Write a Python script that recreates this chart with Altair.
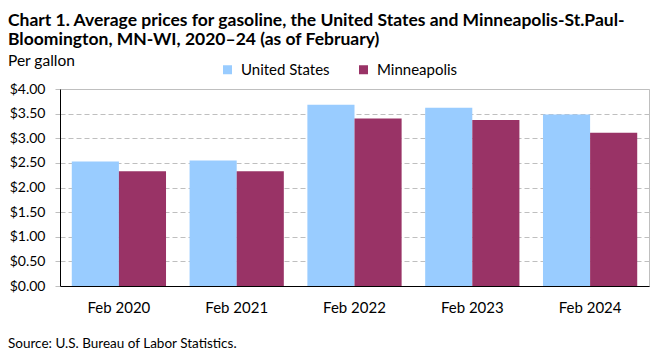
import altair as alt
import pandas as pd

years = ["Feb 2020", "Feb 2021", "Feb 2022", "Feb 2023", "Feb 2024"]
us_prices = [2.53, 2.55, 3.68, 3.62, 3.48]
mn_prices = [2.33, 2.33, 3.40, 3.37, 3.11]
series = ["United States", "Minneapolis"]
colors = ["#99CCFF", "#993366"]
y_ticks = [0, 0.5, 1.0, 1.5, 2.0, 2.5, 3.0, 3.5, 4.0]
title_lines = [
    "Chart 1. Average prices for gasoline, the United States and Minneapolis-St.Paul-",
    "Bloomington, MN-WI, 2020\u201324 (as of February)",
]
y_label = "Per gallon"
source_note = "Source: U.S. Bureau of Labor Statistics."

rows = []
for p, u, m in zip(years, us_prices, mn_prices):
    rows.append({"period": p, "series": series[0], "price": u})
    rows.append({"period": p, "series": series[1], "price": m})
df = pd.DataFrame(rows)

FONT = "Lato"

bars = alt.Chart(df).mark_bar().encode(
    x=alt.X(
        "period:N",
        sort=years,
        scale=alt.Scale(paddingInner=0.2, paddingOuter=0.1),
        axis=alt.Axis(
            title=None, labelAngle=0, ticks=False, domainColor="#000000",
            labelPadding=14, labelFontSize=15, labelColor="#000000", labelFont=FONT,
        ),
    ),
    xOffset=alt.XOffset("series:N", sort=series, scale=alt.Scale(paddingInner=0, paddingOuter=0)),
    y=alt.Y(
        "price:Q",
        scale=alt.Scale(domain=[0, 4]),
        axis=alt.Axis(
            title=None, format="$.2f", values=y_ticks, grid=True, gridDash=[5, 3],
            gridColor="#BFBFBF", domainColor="#000000", tickColor="#BFBFBF", tickSize=5,
            labelPadding=10, labelFontSize=14, labelColor="#000000", labelFont=FONT,
        ),
    ),
    color=alt.Color(
        "series:N",
        sort=series,
        scale=alt.Scale(domain=series, range=colors),
        legend=alt.Legend(
            title=None, orient="none", legendX=160, legendY=-27, direction="horizontal",
            symbolType="square", symbolSize=81, symbolStrokeWidth=0, labelFontSize=15,
            labelFont=FONT, labelColor="#000000", columnPadding=26, labelOffset=6, padding=0,
        ),
    ),
)

def text_layer(txt, x, y, size, weight="normal", baseline="alphabetic"):
    return alt.Chart(pd.DataFrame({"t": [txt]})).mark_text(
        align="left", baseline=baseline, font=FONT, fontSize=size,
        fontWeight=weight, color="#000000",
    ).encode(text="t:N", x=alt.value(x), y=alt.value(y))

t1 = text_layer(title_lines[0], -52, -77, 17.5, "bold", "top")
t2 = text_layer(title_lines[1], -52, -58, 17.5, "bold", "top")
ylab = text_layer(y_label, -52, -23, 15.5)
src = text_layer(source_note, -52, 262, 13.5, "normal", "bottom")

chart = alt.layer(bars, t1, t2, ylab, src).properties(
    width=589,
    height=197,
    autosize=alt.AutoSizeParams(type="none"),
    padding={"left": 52, "top": 81, "right": 4, "bottom": 66},
).configure_view(stroke="#BFBFBF", strokeWidth=1)

chart.save("out.html", embed_options={"renderer": "svg", "actions": False})
